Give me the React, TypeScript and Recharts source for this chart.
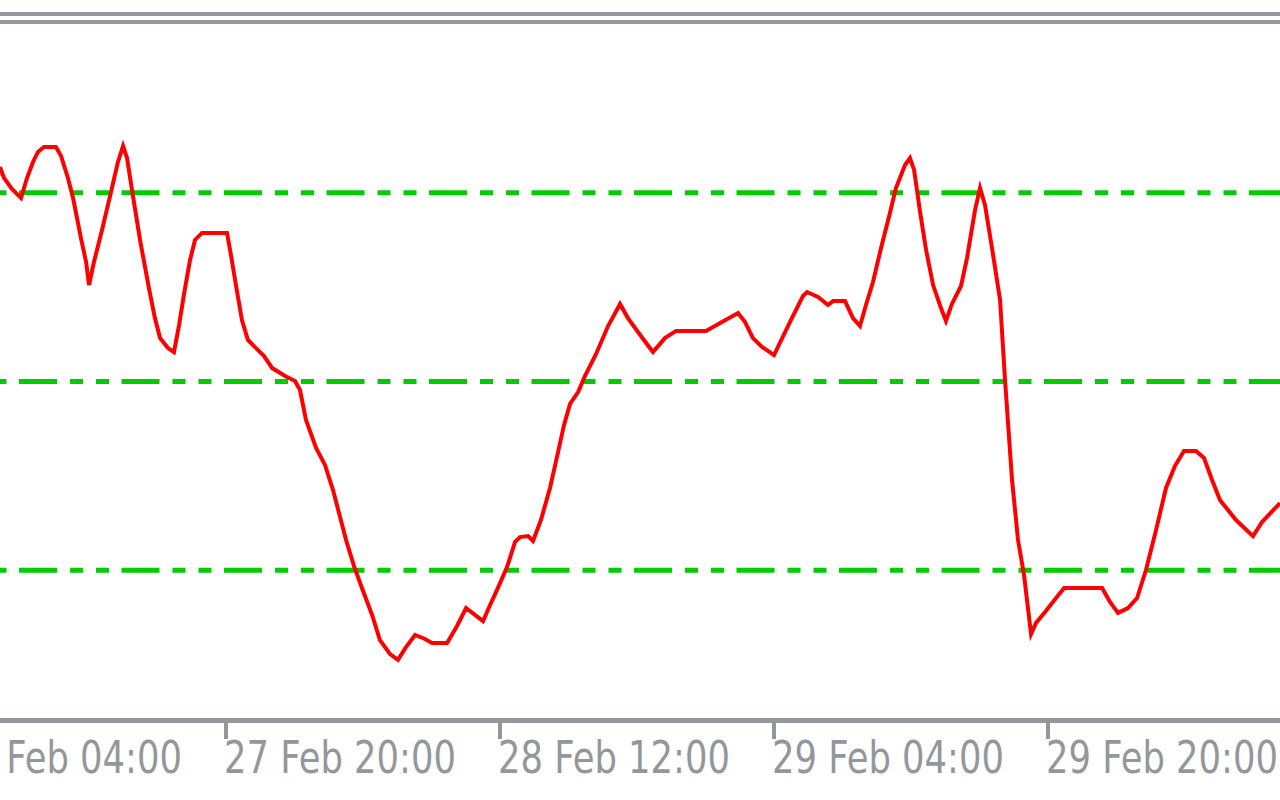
import { Line, LineChart, ReferenceLine, XAxis, YAxis } from "recharts"

// hours since 27 Feb 00:00
const hours = [
  6.80, 7.04, 7.50, 8.03, 8.38, 8.73, 9.02, 9.37, 10.07, 10.37,
  10.77, 11.07, 11.53, 11.83, 12.00, 12.29, 12.76, 13.23, 13.69, 13.99,
  14.22, 14.51, 14.98, 15.50, 15.85, 16.15, 16.61, 16.96, 17.26, 17.55,
  17.90, 18.19, 18.60, 20.06, 20.29, 20.58, 20.93, 21.28, 21.75, 22.22,
  22.69, 23.45, 24.03, 24.32, 24.67, 25.26, 25.78, 26.25, 27.01, 27.47,
  27.94, 28.53, 28.99, 29.58, 30.04, 30.51, 31.04, 31.62, 32.03, 32.91,
  33.49, 34.02, 34.48, 35.01, 35.42, 35.82, 36.41, 36.88, 37.17, 37.64,
  37.93, 38.39, 38.92, 39.39, 39.74, 40.09, 40.56, 40.96, 41.61, 42.31,
  43.01, 43.47, 44.23, 44.93, 45.63, 46.28, 48.03, 48.96, 49.90, 50.31,
  50.77, 51.30, 52.00, 52.93, 53.69, 53.93, 54.57, 55.15, 55.45, 56.15,
  56.61, 57.02, 57.37, 57.78, 58.25, 58.77, 59.12, 59.65, 59.94, 60.18,
  60.53, 60.88, 61.29, 61.75, 62.04, 62.39, 62.92, 63.27, 63.74, 64.03,
  64.32, 64.73, 65.20, 65.49, 65.90, 66.25, 66.60, 67.01, 67.30, 67.83,
  68.47, 68.94, 71.16, 71.62, 72.09, 72.67, 73.20, 73.72, 74.31, 74.89,
  75.41, 75.94, 76.64, 77.11, 77.58, 78.04, 78.98, 79.97, 80.50, 81.55,
]

const values = [
  113.6, 107.8, 102.0, 97.2, 107.8, 116.3, 121.6, 124.2, 124.2, 119.5,
  107.8, 97.2, 76.0, 63.3, 51.1, 63.3, 80.3, 98.3, 116.3, 124.8,
  118.4, 101.5, 75.0, 49.5, 33.6, 23.0, 17.7, 15.6, 29.9, 46.4,
  64.4, 75.0, 78.7, 78.7, 67.0, 51.1, 32.6, 22.0, 17.7, 13.5,
  7.2, 2.9, 0.3, -4.5, -20.4, -35.2, -44.2, -57.5, -84.0, -97.7,
  -109.4, -123.7, -137.0, -144.4, -147.5, -140.7, -134.3, -136.4, -138.5, -138.5,
  -129.5, -120.0, -123.2, -126.9, -118.4, -110.5, -98.3, -85.0, -82.4, -81.9,
  -84.5, -73.4, -56.4, -37.4, -23.0, -11.9, -5.6, 2.9, 14.6, 29.4,
  41.1, 33.6, 24.1, 15.6, 23.0, 26.8, 26.8, 31.5, 36.3, 31.5,
  23.0, 18.3, 14.0, 31.5, 45.3, 47.4, 44.8, 40.5, 42.6, 42.6,
  33.6, 29.4, 40.5, 52.7, 70.7, 89.3, 102.5, 114.7, 118.4, 112.1,
  89.8, 69.7, 51.1, 38.9, 32.1, 41.1, 50.6, 65.4, 90.9, 102.5,
  93.5, 70.7, 43.2, 0.8, -52.2, -84.0, -102.5, -133.8, -127.9, -122.1,
  -114.7, -109.4, -109.4, -116.8, -122.6, -120.0, -114.7, -99.9, -78.7, -56.4,
  -44.8, -36.8, -36.8, -40.5, -52.2, -62.8, -73.4, -81.9, -74.4, -64.4,
]

const tickHours = [4, 20, 36, 52, 68]
const tickLabels = ["27 Feb 04:00", "27 Feb 20:00", "28 Feb 12:00", "29 Feb 04:00", "29 Feb 20:00"]

const levels = [100, 0, -100]

const data = hours.map((h, i) => ({ h, v: values[i] }))

const GREY = "#93979c"

const TimeTick = ({ x, y, payload }: any) => {
  const i = tickHours.indexOf(payload.value)
  return (
    <text
      x={x - 2}
      y={y + 32}
      textAnchor="start"
      fill={GREY}
      fontFamily="DejaVu Sans"
      fontSize={45}
      textLength={232}
      lengthAdjust="spacingAndGlyphs"
    >
      {tickLabels[i]}
    </text>
  )
}

export default function App() {
  return (
    <div style={{ position: "absolute", left: 0, top: 0, width: 1280, height: 800, overflow: "hidden", background: "#fff" }}>
      <div style={{ position: "absolute", left: 0, top: 12, width: 1280, height: 4, background: GREY }} />
      <div style={{ position: "absolute", left: 0, top: 20, width: 1280, height: 4, background: GREY }} />
      <div style={{ position: "absolute", left: -300, top: 0 }}>
        <LineChart
          width={1580}
          height={800}
          data={data}
          margin={{ top: 24, right: 0, left: 0, bottom: 0 }}
        >
          <XAxis
            dataKey="h"
            type="number"
            domain={[-10.715, 81.547]}
            allowDataOverflow
            ticks={tickHours}
            interval={0}
            height={79.5}
            axisLine={{ stroke: GREY, strokeWidth: 5 }}
            tickLine={{ stroke: GREY, strokeWidth: 4 }}
            tickSize={18.5}
            tick={(props: any) => <TimeTick {...props} />}
          />
          <YAxis hide type="number" domain={[-179.6, 189.4]} allowDataOverflow />
          {levels.map((l) => (
            <ReferenceLine
              key={l}
              y={l}
              stroke="#00cc00"
              strokeWidth={5}
              strokeDasharray="38 13 13 13 13 12.5"
              strokeDashoffset={91}
            />
          ))}
          <Line
            type="linear"
            dataKey="v"
            stroke="#ff0000"
            strokeWidth={4}
            dot={false}
            isAnimationActive={false}
          />
        </LineChart>
      </div>
    </div>
  )
}
